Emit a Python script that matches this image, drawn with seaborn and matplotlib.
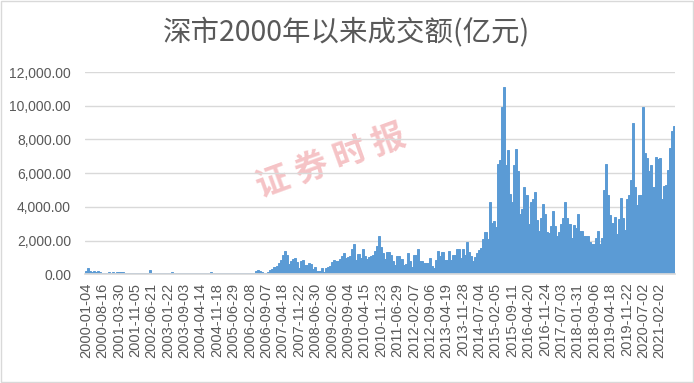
import numpy as np
import pandas as pd
import matplotlib
matplotlib.use("Agg")
import matplotlib.pyplot as plt
import seaborn as sns
from matplotlib.patches import Rectangle

# 深市日成交额（亿元），按图读数，每 8 个值对应一个横轴标签区间
turnover = [
    180, 350, 200, 160, 210, 150, 170, 160,
    90, 70, 70, 110, 70, 110, 70, 110,
    130, 110, 110, 70, 60, 60, 60, 100,
    60, 60, 60, 100, 60, 60, 60, 250,
    80, 60, 60, 60, 60, 60, 60, 90,
    60, 60, 130, 70, 60, 60, 60, 60,
    60, 60, 60, 60, 60, 90, 100, 90,
    90, 60, 60, 60, 60, 130, 80, 60,
    60, 60, 60, 60, 60, 60, 90, 80,
    60, 90, 60, 60, 60, 60, 60, 90,
    80, 70, 100, 200, 260, 180, 150, 100,
    100, 110, 260, 330, 420, 500, 680, 850,
    1170, 1370, 1150, 600, 800, 900, 970, 700,
    380, 800, 850, 560, 560, 680, 600, 330,
    460, 200, 180, 360, 110, 370, 430, 500,
    700, 870, 800, 780, 900, 1070, 1270, 980,
    1000, 1100, 1500, 1780, 870, 1230, 970, 1530,
    1100, 900, 1000, 1070, 1150, 1370, 1700, 2300,
    1600, 1270, 900, 1300, 1300, 1170, 770, 570,
    1100, 1100, 900, 570, 600, 1270, 770, 460,
    1170, 1170, 1520, 800, 800, 670, 670, 670,
    970, 500, 360, 870, 1370, 1070, 1300, 870,
    870, 1410, 870, 1170, 1170, 1480, 1520, 970,
    1480, 1150, 1900, 1300, 1080, 790, 1000, 1280,
    1450, 1580, 2100, 2500, 2070, 4300, 3050, 3150,
    2800, 6560, 6800, 9900, 11110, 6500, 7390, 4770,
    4300, 6500, 7450, 6150, 3600, 3880, 5180, 4700,
    3000, 4300, 4470, 4870, 3250, 2560, 3310, 4180,
    3550, 2500, 2460, 2860, 3780, 2840, 2300, 2520,
    2960, 3310, 4270, 3350, 2960, 2130, 2920, 2720,
    3550, 2560, 2560, 2270, 2270, 2300, 1930, 1810,
    1770, 2170, 2560, 1770, 2130, 5000, 6540, 4730,
    3500, 3050, 3410, 2420, 3290, 4530, 3350, 2600,
    4490, 4730, 5610, 8960, 5200, 4140, 4730, 4730,
    9910, 7190, 6900, 6150, 6500, 5160, 6930, 6840,
    6900, 4470, 5220, 5320, 6200, 7490, 8510, 8770,
]

tick_dates = [
    "2000-01-04", "2000-08-16", "2001-03-30", "2001-11-05", "2002-06-21",
    "2003-01-22", "2003-09-03", "2004-04-14", "2004-11-18", "2005-06-29",
    "2006-02-08", "2006-09-07", "2007-04-18", "2007-11-22", "2008-06-30",
    "2009-02-06", "2009-09-04", "2010-04-15", "2010-11-23", "2011-06-29",
    "2012-02-07", "2012-09-06", "2013-04-19", "2013-11-28", "2014-07-04",
    "2015-02-05", "2015-09-11", "2016-04-20", "2016-11-24", "2017-07-03",
    "2018-01-31", "2018-09-06", "2019-04-18", "2019-11-22", "2020-07-02",
    "2021-02-02",
]

y_ticks = [0, 2000, 4000, 6000, 8000, 10000, 12000]

title = "深市2000年以来成交额(亿元)"
watermark = "证 券 时 报"

step = len(turnover) // len(tick_dates)
df = pd.DataFrame({"idx": np.arange(len(turnover)), "val": turnover})

sns.set_theme(style="white")
plt.rcParams["font.family"] = ["Liberation Sans", "Noto Sans CJK SC", "DejaVu Sans"]

fig = plt.figure(figsize=(6.94, 3.83), dpi=100)
ax = fig.add_axes([85 / 694, 1 - 274.3 / 383, 590 / 694, (274.3 - 72) / 383])

sns.barplot(data=df, x="idx", y="val", color="#5b9bd5", width=1.0,
            saturation=1, linewidth=0.7, edgecolor="#5b9bd5", ax=ax)

ax.set_xlim(-0.5, len(turnover) - 0.5)
ax.set_ylim(0, 12000)
ax.set_yticks(y_ticks)
ax.set_yticklabels([f"{v:,.2f}" for v in y_ticks])
ax.set_xticks(np.arange(0, len(turnover), step))
ax.set_xticklabels(tick_dates, rotation=90)
ax.set_xlabel("")
ax.set_ylabel("")
ax.yaxis.grid(True, color="#d9d9d9", linewidth=1)
ax.set_axisbelow(True)
for side in ["left", "right", "top"]:
    ax.spines[side].set_visible(False)
ax.spines["bottom"].set_color("#d9d9d9")
ax.tick_params(axis="y", length=0, pad=10, labelsize=10, labelcolor="#595959")
ax.tick_params(axis="x", length=0, pad=6, labelsize=10.5, labelcolor="#595959")

fig.text(0.5, 1 - 33 / 383, title, ha="center", va="center", fontsize=20.5,
         color="#595959", family=["Noto Sans CJK SC", "DejaVu Sans"])

ax.text(0.417, 0.56, watermark, transform=ax.transAxes, ha="center", va="center",
        fontsize=24, rotation=20, color="#f4b9bc", alpha=0.85, fontweight="bold",
        family=["Noto Sans CJK SC", "DejaVu Sans"], zorder=0)

fig.patches.append(Rectangle((1 / 694, 1 / 383), 692 / 694, 381 / 383,
                             transform=fig.transFigure, fill=False,
                             edgecolor="#d9d9d9", linewidth=1))

fig.savefig("out.png", dpi=100)
